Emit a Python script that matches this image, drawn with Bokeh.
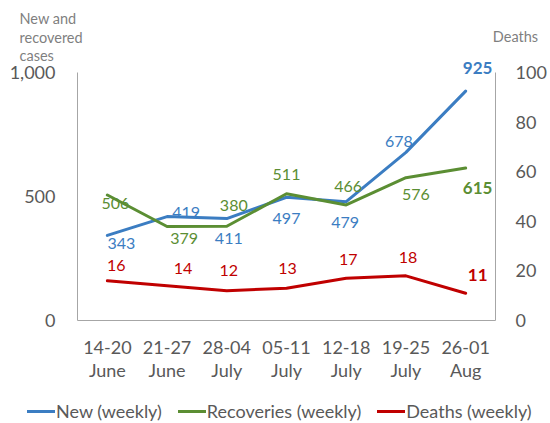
from bokeh.plotting import figure
from bokeh.models import (Range1d, LinearAxis, FixedTicker, ColumnDataSource,
                          LabelSet, Label, Legend, LegendItem)
from bokeh.core.properties import value
from bokeh.embed import file_html
from bokeh.resources import INLINE

# ---- data ----
weeks = ["14-20\nJune", "21-27\nJune", "28-04\nJuly", "05-11\nJuly",
         "12-18\nJuly", "19-25\nJuly", "26-01\nAug"]
new_cases = [343, 419, 411, 497, 479, 678, 925]
recoveries = [506, 379, 380, 511, 466, 576, 615]
deaths = [16, 14, 12, 13, 17, 18, 11]

left_ticks = [0, 500, 1000]
left_tick_labels = ["0", "500", "1,000"]
right_ticks = [0, 20, 40, 60, 80, 100]

# ---- label placement (screen px; right / up) ----
new_dx = [14, 19, 2, 0, -1, -7, 12]
new_dy = [-8, 4, -20, -21, -21, 11, 23]
rec_dx = [8, 17, 7, 0, 2, 10, 12]
rec_dy = [-8, -12, 21, 19, 18, -17, -20]
dea_dx = [9, 16, 2, 1, 2, 2, 12]
dea_dy = [15, 17, 20, 20, 19, 18, 18]

BLUE = "#3b7dc2"
GREEN = "#5b8e33"
RED = "#c00000"
GRAY_TXT = "#595959"
TITLE_GRAY = "#7f7f7f"
AXIS_GRAY = "#a6a6a6"
FONT = "Lato"

xs = list(range(1, len(weeks) + 1))

W, H = 550, 423
# plot area in the picture: x 77..495 (0.5..7.5), y 72..320 (1000..0)
px_x = 418 / 7.0
px_y = 248 / 1000.0
x0 = 0.5 - 77 / px_x
x1 = 7.5 + (W - 495) / px_x
y1 = 1000 + 72 / px_y
y0 = -(H - 320) / px_y

p = figure(width=W, height=H, x_range=Range1d(x0, x1), y_range=Range1d(y0, y1),
           output_backend="svg", toolbar_location=None, min_border=0)
p.outline_line_color = None
p.grid.visible = False
p.extra_y_ranges = {"deaths": Range1d(y0 / 10.0, y1 / 10.0)}

right_axis = LinearAxis(y_range_name="deaths", ticker=FixedTicker(ticks=right_ticks),
                        fixed_location=7.5, bounds=(0, 100))
p.add_layout(right_axis, "right")

xa = p.xaxis[0]
xa.fixed_location = 0
xa.bounds = (0.5, 7.5)
xa.ticker = FixedTicker(ticks=xs)
xa.major_label_overrides = {x: w for x, w in zip(xs, weeks)}

ya = p.yaxis[0]
ya.fixed_location = 0.5
ya.bounds = (0, 1000)
ya.ticker = FixedTicker(ticks=left_ticks)
ya.major_label_overrides = {t: l for t, l in zip(left_ticks, left_tick_labels)}

for ax in p.axis:
    ax.axis_line_color = AXIS_GRAY
    ax.axis_line_width = 1
    ax.major_tick_line_color = None
    ax.minor_tick_line_color = None
    ax.major_tick_out = 0
    ax.major_tick_in = 0
    ax.major_label_text_font = FONT
    ax.major_label_text_font_size = "18px"
    ax.major_label_text_color = GRAY_TXT

xa.major_label_standoff = 15
xa.major_label_text_line_height = 1.05
ya.major_label_standoff = 22
right_axis.major_label_standoff = 20

r_new = p.line(xs, new_cases, line_width=3, color=BLUE, line_join="round", line_cap="round")
r_rec = p.line(xs, recoveries, line_width=3, color=GREEN, line_join="round", line_cap="round")
r_dea = p.line(xs, deaths, line_width=3, color=RED, line_join="round", line_cap="round",
               y_range_name="deaths")


def add_labels(vals, dx, dy, color, range_name="default"):
    n = len(vals)
    src = ColumnDataSource(dict(
        x=xs, y=vals, t=[str(v) for v in vals], dx=dx, dy=dy,
        style=["normal"] * (n - 1) + ["bold"],
        size=["16px"] * (n - 1) + ["17px"]))
    ls = LabelSet(x="x", y="y", text="t", source=src, x_offset="dx", y_offset="dy",
                  text_align="center", text_baseline="middle", text_color=color,
                  text_font=value(FONT), text_font_style="style", text_font_size="size",
                  y_range_name=range_name)
    p.add_layout(ls)


add_labels(new_cases, new_dx, new_dy, BLUE)
add_labels(recoveries, rec_dx, rec_dy, GREEN)
add_labels(deaths, dea_dx, dea_dy, RED, "deaths")

# axis titles (baselines in picture px)
title_lines = ["New and", "recovered", "cases"]
title_base = [18, 37, 55]
for txt, b in zip(title_lines, title_base):
    p.add_layout(Label(x=x0 + 19 / px_x, y=y1 - b / px_y, text=txt, text_align="left",
                       text_baseline="alphabetic", text_font=FONT, text_font_size="14.5px",
                       text_color=TITLE_GRAY))
p.add_layout(Label(x=x0 + 515 / px_x, y=y1 - 36 / px_y, text="Deaths", text_align="center",
                   text_baseline="alphabetic", text_font=FONT, text_font_size="14.5px",
                   text_color=TITLE_GRAY))

legend = Legend(items=[LegendItem(label="New (weekly)", renderers=[r_new]),
                       LegendItem(label="Recoveries (weekly)", renderers=[r_rec]),
                       LegendItem(label="Deaths (weekly)", renderers=[r_dea])],
                orientation="horizontal", location=(27, 1),
                label_text_font=FONT, label_text_font_size="18px",
                label_text_color=GRAY_TXT, glyph_width=28, glyph_height=20,
                label_height=20, label_standoff=1, spacing=16, padding=0, margin=0,
                background_fill_alpha=0, border_line_color=None)
p.add_layout(legend)

open("out.html", "w").write(file_html(p, INLINE))
